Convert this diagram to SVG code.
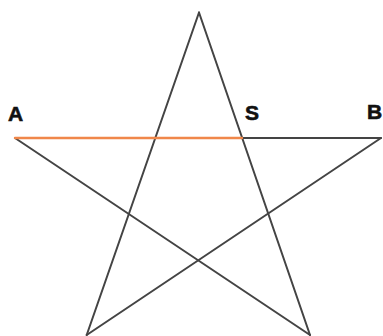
<svg xmlns="http://www.w3.org/2000/svg" width="383" height="336" viewBox="0 0 383 336">
<style>
.e{stroke:#444;stroke-width:2;fill:none;stroke-linecap:round}
.o{stroke:#f0874a;stroke-width:2.4;fill:none;stroke-linecap:round}
.l{font-family:"Liberation Sans",Arial,sans-serif;font-weight:bold;font-size:21px;fill:#111;stroke:#111;stroke-width:0.6}
</style>
<rect width="383" height="336" fill="#fff"/>
<g id="connectors">
<line class="e" x1="199" y1="12.5" x2="86.7" y2="335"/>
<line class="e" x1="199" y1="12.5" x2="310" y2="335"/>
<line class="e" x1="15" y1="138" x2="310" y2="335"/>
<line class="e" x1="381" y1="138" x2="86.7" y2="335"/>
<line class="e" x1="242" y1="138" x2="381" y2="138"/>
<line class="o" x1="15" y1="138" x2="242" y2="138"/>
</g>
<g id="A"><text class="l" x="8" y="121">A</text></g>
<g id="S"><text class="l" x="245" y="120">S</text></g>
<g id="B"><text class="l" x="367" y="119">B</text></g>
</svg>
